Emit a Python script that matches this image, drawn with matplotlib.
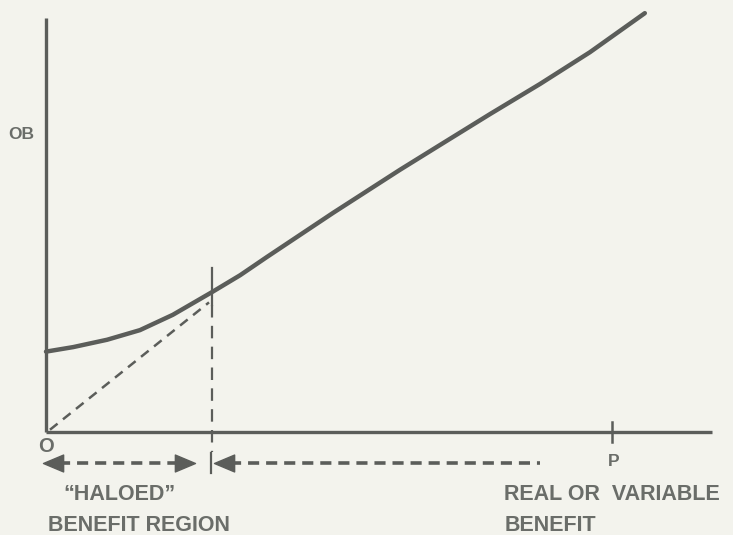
import matplotlib
matplotlib.use("Agg")
import matplotlib.pyplot as plt
from matplotlib.path import Path

plt.rcParams['lines.scale_dashes'] = False
plt.rcParams['font.family'] = ['Liberation Sans', 'DejaVu Sans']

# ---- data (units: P = 10 on the horizontal axis) ----
curve_x = [0.0, 0.48, 1.08, 1.66, 2.24, 2.93, 3.43, 3.90, 5.07, 6.25, 6.96, 7.85, 8.73, 9.61, 10.58]
curve_y = [1.42, 1.50, 1.63, 1.80, 2.07, 2.47, 2.77, 3.09, 3.87, 4.63, 5.07, 5.62, 6.15, 6.71, 7.40]
diag_x = [0.07, 2.88]
diag_y = [0.04, 2.29]
halo_edge = 2.93          # boundary of the "haloed" region
p_value = 10.0            # point P
y_axis_top = 7.31
x_axis_end = 11.77
arrow_y = -0.55
left_arrow = [-0.05, 2.63]
right_arrow = [2.97, 8.73]
ob_label_y = 5.25

ink = '#5b5d5a'
txt = '#6a6d69'
bg = '#f3f3ed'

fig = plt.figure(figsize=(7.33, 5.35), dpi=100, facecolor=bg)
ax = fig.add_axes([0, 0, 1, 1])
ax.set_facecolor(bg)
s = 56.6
ax.set_xlim(-46 / s, (733 - 46) / s)
ax.set_ylim(-(535 - 432) / s, 432 / s)
ax.axis('off')

# axes
ax.plot([0, 0], [0, y_axis_top], color=ink, lw=2.4, solid_capstyle='butt')
ax.plot([0, x_axis_end], [0, 0], color=ink, lw=2.4, solid_capstyle='butt')
# P tick
ax.plot([p_value, p_value], [-0.18, 0.18], color=ink, lw=1.8)

# main curve
ax.plot(curve_x, curve_y, color=ink, lw=3.2, solid_capstyle='round', solid_joinstyle='round')

# dashed diagonal
ax.plot(diag_x, diag_y, color=ink, lw=1.8, linestyle=(0, (7, 5)))

# vertical boundary line
ax.plot([halo_edge, halo_edge], [2.90, 2.25], color=ink, lw=1.6)
ax.plot([halo_edge, halo_edge], [2.25, -0.36], color=ink, lw=1.6, linestyle=(0, (9, 6)))

# arrow heads as markers (tip at the given point)
head_left = Path([(0, 0), (1, 0.42), (1, -0.42), (0, 0)],
                 [Path.MOVETO, Path.LINETO, Path.LINETO, Path.CLOSEPOLY])
head_right = Path([(0, 0), (-1, 0.42), (-1, -0.42), (0, 0)],
                  [Path.MOVETO, Path.LINETO, Path.LINETO, Path.CLOSEPOLY])
hl = 20 / s
# left double arrow
ax.plot([left_arrow[0] + hl * 0.8, left_arrow[1] - hl * 0.8], [arrow_y, arrow_y],
        color=ink, lw=2.6, linestyle=(0, (8, 5)))
ax.plot([left_arrow[0]], [arrow_y], marker=head_left, ms=29, color=ink, mec=ink)
ax.plot([left_arrow[1]], [arrow_y], marker=head_right, ms=29, color=ink, mec=ink)
# right arrow
ax.plot([right_arrow[0] + hl * 0.8, right_arrow[1]], [arrow_y, arrow_y],
        color=ink, lw=2.6, linestyle=(0, (8, 5)))
ax.plot([right_arrow[0]], [arrow_y], marker=head_left, ms=29, color=ink, mec=ink)
ax.plot([halo_edge - 0.02, halo_edge - 0.02], [arrow_y - 0.18, arrow_y + 0.18], color=ink, lw=1.6)

# labels
fs = 15.5
kw = dict(color=txt, fontsize=fs, fontweight='bold')
ax.text(-0.66, ob_label_y, 'OB', ha='left', va='center', fontsize=12.5, color=txt, fontweight='bold')
ax.text(0.0, -0.26, 'O', ha='center', va='center', fontsize=14.5, color=txt, fontweight='bold')
ax.text(p_value + 0.03, -0.53, 'P', ha='center', va='center', fontsize=12.5, color=txt, fontweight='bold')
ax.text(0.30, -1.11, '“HALOED”', ha='left', va='center', **kw)
ax.text(0.03, -1.65, 'BENEFIT REGION', ha='left', va='center', **kw)
ax.text(8.10, -1.11, 'REAL OR  VARIABLE', ha='left', va='center', **kw)
ax.text(8.10, -1.65, 'BENEFIT', ha='left', va='center', **kw)

fig.savefig('out.png', dpi=100, facecolor=bg)
